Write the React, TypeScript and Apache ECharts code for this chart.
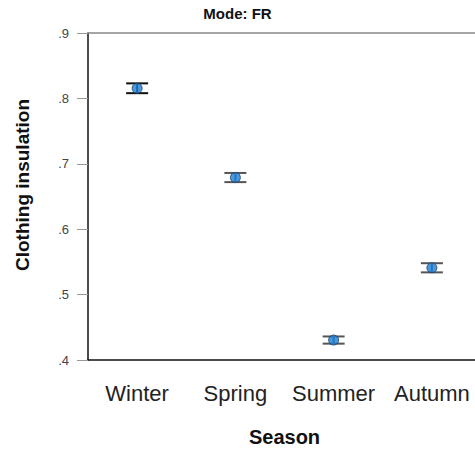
import React, { useEffect, useRef } from "react";
import * as echarts from "echarts";

const seasons = ["Winter", "Spring", "Summer", "Autumn"];
const means = [0.8155, 0.679, 0.4305, 0.541];
const lower = [0.808, 0.672, 0.425, 0.534];
const upper = [0.823, 0.686, 0.436, 0.548];
const yTicks = [0.4, 0.5, 0.6, 0.7, 0.8, 0.9];

export default function App() {
  const ref = useRef<HTMLDivElement>(null);
  useEffect(() => {
    const chart = echarts.init(ref.current!, null, { renderer: "svg" });
    const errData = seasons.map((_, i) => [i, lower[i], upper[i]]);
    chart.setOption({
      animation: false,
      backgroundColor: "#ffffff",
      title: {
        text: "Mode: FR",
        left: "center",
        top: 1,
        textStyle: { fontFamily: "Liberation Sans, Arial", fontWeight: "bold", fontSize: 15, color: "#111" },
      },
      grid: { left: 88, top: 33, width: 393, height: 327, containLabel: false, outerBoundsMode: "none" },
      xAxis: [
        {
          type: "category",
          data: seasons,
          boundaryGap: true,
          name: "Season",
          nameLocation: "middle",
          nameGap: 67,
          nameTextStyle: { fontFamily: "Liberation Sans, Arial", fontWeight: "bold", fontSize: 20, color: "#111" },
          axisLine: { lineStyle: { color: "#111", width: 1.5 } },
          axisTick: { alignWithLabel: true, length: 10, lineStyle: { color: "#999" } },
          axisLabel: { interval: 0, hideOverlap: false, fontFamily: "Liberation Sans, Arial", fontSize: 22, color: "#222", margin: 22 },
          splitLine: { show: false },
        },
        {
          type: "category",
          data: seasons,
          position: "top",
          axisLine: { lineStyle: { color: "#888", width: 1.5 } },
          axisTick: { show: false },
          axisLabel: { show: false },
          splitLine: { show: false },
        },
      ],
      yAxis: {
        type: "value",
        min: yTicks[0],
        max: yTicks[yTicks.length - 1],
        interval: 0.1,
        axisLine: { show: true, lineStyle: { color: "#111", width: 1.5 } },
        axisTick: { show: true, length: 11, lineStyle: { color: "#999" } },
        axisLabel: {
          fontFamily: "Liberation Sans, Arial",
          fontSize: 13,
          color: "#444",
          margin: 19,
          formatter: (v: number) => v.toFixed(1).replace(/^0/, ""),
        },
        splitLine: { show: false },
      },
      graphic: [
        {
          type: "text",
          x: 22,
          y: 185,
          rotation: Math.PI / 2,
          style: {
            text: "Clothing insulation",
            fontFamily: "Liberation Sans, Arial",
            fontWeight: "bold",
            fontSize: 19,
            fill: "#111",
            textAlign: "center",
            textVerticalAlign: "middle",
          },
        },
      ],
      series: [
        {
          type: "custom",
          data: errData,
          z: 2,
          renderItem: (params: any, api: any) => {
            const i = api.value(0);
            const lo = api.coord([i, api.value(1)]);
            const hi = api.coord([i, api.value(2)]);
            const half = 11;
            const color = i === 0 ? "#111" : "#555";
            const style = { stroke: color, lineWidth: 2 };
            return {
              type: "group",
              children: [
                { type: "line", shape: { x1: lo[0], y1: lo[1], x2: hi[0], y2: hi[1] }, style },
                { type: "line", shape: { x1: lo[0] - half, y1: lo[1], x2: lo[0] + half, y2: lo[1] }, style },
                { type: "line", shape: { x1: hi[0] - half, y1: hi[1], x2: hi[0] + half, y2: hi[1] }, style },
              ],
            };
          },
        },
        {
          type: "scatter",
          data: means.map((m, i) => [i, m]),
          symbol: "circle",
          symbolSize: 10,
          z: 3,
          itemStyle: { color: "#1c7fd8", borderColor: "#1d3d66", borderWidth: 1 },
        },
      ],
    });
    return () => chart.dispose();
  }, []);
  return (
    <div
      ref={ref}
      style={{ position: "fixed", left: 0, top: 0, width: 475, height: 451 }}
    />
  );
}
